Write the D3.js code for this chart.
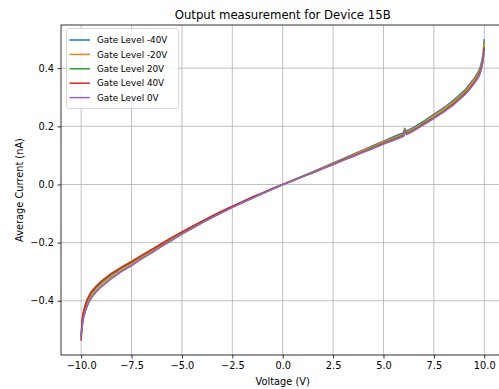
<!DOCTYPE html>
<html>
<head>
<meta charset="utf-8">
<script src="https://cdn.jsdelivr.net/npm/d3@7"></script>
<style>
  body { margin: 0; background: #fff; }
  svg { display: block; }
  text { font-family: "DejaVu Sans", sans-serif; fill: #000; }
</style>
</head>
<body>
<svg id="chart" width="499" height="389"></svg>
<script>
// Sweep voltages (V)
const voltages = [
  -10.0, -9.95, -9.9, -9.8, -9.7, -9.6, -9.5, -9.25, -9.0, -8.5, -8.0, -7.5, -7.0, -6.5,
  -6.0, -5.5, -5.0, -4.5, -4.0, -3.5, -3.0, -2.5, -2.0, -1.5, -1.0, -0.5, 0.0,
  0.5, 1.0, 1.5, 2.0, 2.5, 3.0, 3.5, 4.0, 4.5, 5.0, 5.5, 6.0, 6.05, 6.15, 6.5,
  7.0, 7.5, 8.0, 8.5, 9.0, 9.25, 9.5, 9.7, 9.8, 9.9, 9.95, 10.0
];

// Average current (nA) per gate level
const gateMinus40 = [
  -0.520, -0.488, -0.462, -0.436, -0.417, -0.401, -0.389, -0.367, -0.350, -0.322, -0.298, -0.278, -0.255, -0.234,
  -0.212, -0.191, -0.170, -0.151, -0.131, -0.113, -0.096, -0.079, -0.063, -0.047, -0.031, -0.016, 0.000,
  0.015, 0.029, 0.044, 0.059, 0.074, 0.089, 0.104, 0.119, 0.134, 0.149, 0.164, 0.178, 0.193, 0.184, 0.196,
  0.218, 0.241, 0.264, 0.291, 0.322, 0.343, 0.365, 0.387, 0.403, 0.431, 0.457, 0.497
];
const gateMinus20 = [
  -0.518, -0.478, -0.452, -0.426, -0.407, -0.392, -0.380, -0.359, -0.342, -0.315, -0.292, -0.272, -0.250, -0.229,
  -0.208, -0.187, -0.167, -0.148, -0.129, -0.111, -0.094, -0.077, -0.061, -0.045, -0.030, -0.015, 0.000,
  0.014, 0.028, 0.043, 0.058, 0.072, 0.087, 0.102, 0.117, 0.131, 0.146, 0.160, 0.174, 0.189, 0.180, 0.192,
  0.214, 0.237, 0.260, 0.286, 0.317, 0.338, 0.360, 0.381, 0.397, 0.424, 0.450, 0.485
];
const gatePlus20 = [
  -0.522, -0.471, -0.445, -0.419, -0.400, -0.385, -0.373, -0.353, -0.336, -0.310, -0.287, -0.268, -0.246, -0.225,
  -0.205, -0.184, -0.165, -0.146, -0.127, -0.109, -0.092, -0.076, -0.060, -0.044, -0.029, -0.014, 0.000,
  0.014, 0.028, 0.041, 0.056, 0.070, 0.085, 0.098, 0.113, 0.127, 0.142, 0.156, 0.170, 0.185, 0.176, 0.188,
  0.210, 0.231, 0.254, 0.280, 0.311, 0.330, 0.352, 0.373, 0.389, 0.416, 0.440, 0.470
];
const gatePlus40 = [
  -0.535, -0.466, -0.440, -0.414, -0.395, -0.381, -0.369, -0.349, -0.332, -0.306, -0.284, -0.265, -0.244, -0.223,
  -0.203, -0.182, -0.163, -0.144, -0.126, -0.108, -0.091, -0.075, -0.059, -0.043, -0.029, -0.014, 0.000,
  0.013, 0.027, 0.040, 0.055, 0.069, 0.084, 0.097, 0.112, 0.125, 0.140, 0.153, 0.167, 0.182, 0.173, 0.185,
  0.207, 0.228, 0.251, 0.277, 0.308, 0.327, 0.349, 0.369, 0.385, 0.411, 0.435, 0.465
];
const gateZero = [
  -0.524, -0.490, -0.464, -0.438, -0.419, -0.403, -0.391, -0.369, -0.352, -0.324, -0.300, -0.279, -0.256, -0.235,
  -0.213, -0.192, -0.171, -0.152, -0.132, -0.114, -0.097, -0.079, -0.063, -0.047, -0.031, -0.016, 0.000,
  0.013, 0.027, 0.040, 0.055, 0.068, 0.083, 0.096, 0.111, 0.124, 0.139, 0.152, 0.166, 0.181, 0.172, 0.184,
  0.206, 0.227, 0.250, 0.275, 0.306, 0.325, 0.347, 0.367, 0.383, 0.409, 0.433, 0.459
];

const seriesNames = ["Gate Level -40V", "Gate Level -20V", "Gate Level 20V", "Gate Level 40V", "Gate Level 0V"];
const seriesValues = [gateMinus40, gateMinus20, gatePlus20, gatePlus40, gateZero];
const seriesColors = ["#1f77b4", "#ff7f0e", "#2ca02c", "#d62728", "#9467bd"];

const xTickValues = [-10, -7.5, -5, -2.5, 0, 2.5, 5, 7.5, 10];
const yTickValues = [-0.4, -0.2, 0.0, 0.2, 0.4];

const chartTitle = "Output measurement for Device 15B";
const xLabel = "Voltage (V)";
const yLabel = "Average Current (nA)";

// Plot frame
const frame = { left: 61, right: 504.4, top: 25, bottom: 355 };

// Axis domains padded by 5% of the data span
function padded(extent) {
  const pad = (extent[1] - extent[0]) * 0.05;
  return [extent[0] - pad, extent[1] + pad];
}
const allCurrents = seriesValues.flat();
const x = d3.scaleLinear().domain(padded(d3.extent(voltages))).range([frame.left, frame.right]);
const y = d3.scaleLinear().domain(padded(d3.extent(allCurrents))).range([frame.bottom, frame.top]);

const svg = d3.select("#chart");
const fmt = d3.format(".1f");

// Grid
const grid = svg.append("g").attr("stroke", "#b0b0b0").attr("stroke-width", 0.8);
grid.selectAll("line.gx").data(xTickValues).join("line")
  .attr("x1", d => x(d)).attr("x2", d => x(d))
  .attr("y1", frame.top).attr("y2", frame.bottom);
grid.selectAll("line.gy").data(yTickValues).join("line")
  .attr("x1", frame.left).attr("x2", frame.right)
  .attr("y1", d => y(d)).attr("y2", d => y(d));

// Curves
const line = d3.line().x((d, i) => x(voltages[i])).y(d => y(d));
svg.append("g").attr("fill", "none").attr("stroke-width", 1.5)
  .attr("stroke-linejoin", "round").attr("stroke-linecap", "square")
  .selectAll("path").data(seriesValues).join("path")
  .attr("stroke", (d, i) => seriesColors[i])
  .attr("d", line);

// Axes
const xAxis = svg.append("g").attr("transform", `translate(0,${frame.bottom})`)
  .call(d3.axisBottom(x).tickValues(xTickValues).tickFormat(fmt).tickSize(3.5).tickPadding(3.5));
const yAxis = svg.append("g").attr("transform", `translate(${frame.left},0)`)
  .call(d3.axisLeft(y).tickValues(yTickValues).tickFormat(fmt).tickSize(3.5).tickPadding(3.5));
[xAxis, yAxis].forEach(a => {
  a.select(".domain").remove();
  a.selectAll("line").attr("stroke", "#000").attr("stroke-width", 0.8);
  a.selectAll("text").attr("font-family", "DejaVu Sans").attr("font-size", 9.8).attr("fill", "#000");
});

// Spines
svg.append("rect")
  .attr("x", frame.left).attr("y", frame.top)
  .attr("width", frame.right - frame.left).attr("height", frame.bottom - frame.top)
  .attr("fill", "none").attr("stroke", "#000").attr("stroke-width", 0.8);

// Titles
svg.append("text").attr("x", (frame.left + frame.right) / 2).attr("y", 19)
  .attr("text-anchor", "middle").attr("font-size", 11.7).text(chartTitle);
svg.append("text").attr("x", (frame.left + frame.right) / 2).attr("y", 385)
  .attr("text-anchor", "middle").attr("font-size", 9.8).text(xLabel);
svg.append("text").attr("transform", `translate(23,${(frame.top + frame.bottom) / 2}) rotate(-90)`)
  .attr("text-anchor", "middle").attr("font-size", 9.8).text(yLabel);

// Legend
const legend = svg.append("g").attr("transform", "translate(66.5,28.5)");
legend.append("rect").attr("width", 112).attr("height", 80).attr("rx", 2.5)
  .attr("fill", "#fff").attr("fill-opacity", 0.8)
  .attr("stroke", "#cccccc").attr("stroke-width", 0.8);
const rows = legend.selectAll("g.row").data(seriesNames).join("g")
  .attr("transform", (d, i) => `translate(0,${11.5 + i * 14.4})`);
rows.append("line").attr("x1", 3).attr("x2", 23.5)
  .attr("stroke", (d, i) => seriesColors[i]).attr("stroke-width", 1.5);
rows.append("text").attr("x", 30.5).attr("y", 3.2).attr("font-size", 8.8).text(d => d);
</script>
</body>
</html>
